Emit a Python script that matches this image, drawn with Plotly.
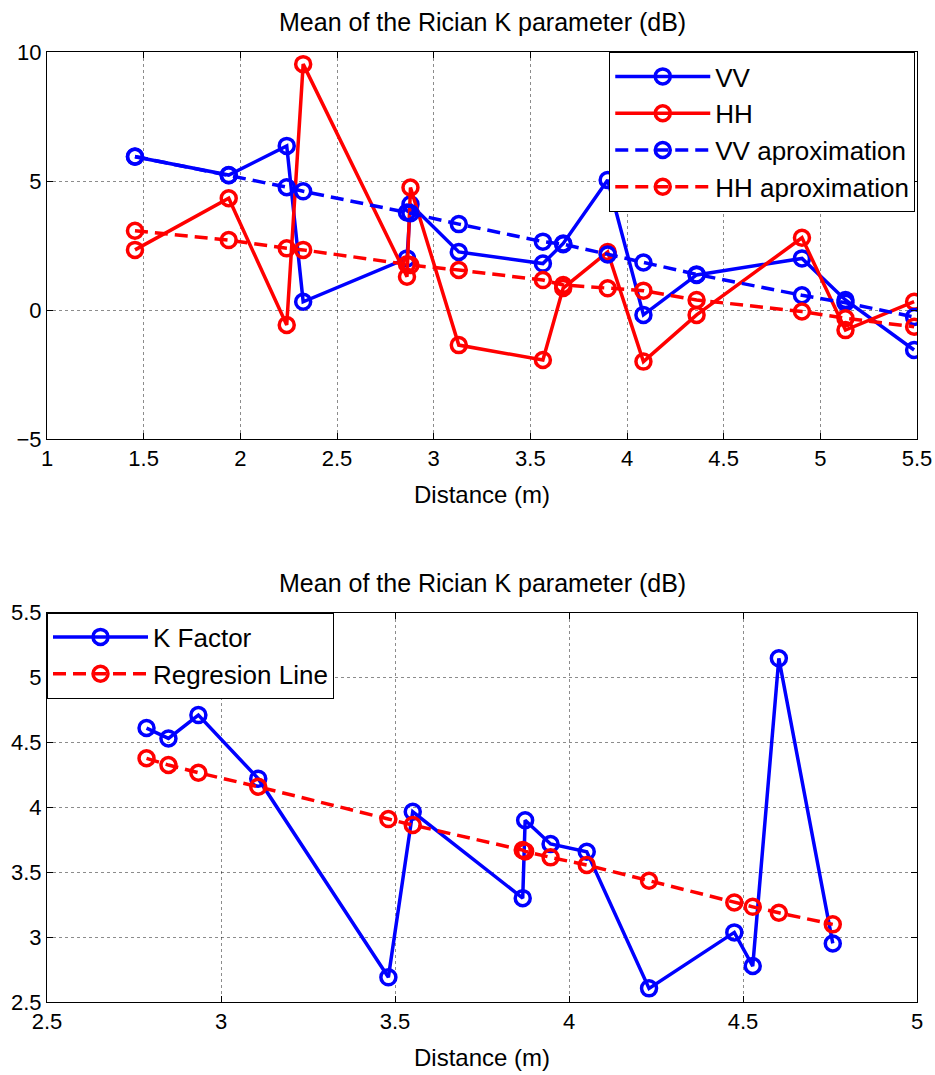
import plotly.graph_objects as go

# ---- Top chart data ----
dist_top = [1.455, 1.94, 2.24, 2.325, 2.862, 2.88, 3.13, 3.565, 3.67, 3.90, 4.085, 4.36, 4.905, 5.13, 5.485]
vv = [5.94, 5.23, 6.36, 0.32, 2.0, 4.1, 2.25, 1.8, 2.58, 5.04, -0.19, 1.36, 2.0, 0.39, -1.55]
hh = [2.33, 4.33, -0.58, 9.53, 1.29, 4.75, -1.36, -1.94, 0.85, 2.25, -2.0, -0.19, 2.8, -0.78, 0.32]
vv_approx = [5.95, 5.22, 4.76, 4.6, 3.78, 3.75, 3.33, 2.65, 2.55, 2.15, 1.84, 1.38, 0.57, 0.28, -0.27]
hh_approx = [3.07, 2.71, 2.39, 2.33, 1.77, 1.74, 1.55, 1.16, 0.97, 0.84, 0.75, 0.39, -0.06, -0.32, -0.65]

# ---- Bottom chart data ----
dist_bot = [2.786, 2.849, 2.935, 3.107, 3.481, 3.551, 3.867, 3.874, 3.947, 4.051, 4.23, 4.475, 4.528, 4.603, 4.758]
k_factor = [4.61, 4.53, 4.71, 4.22, 2.69, 3.965, 3.30, 3.90, 3.717, 3.657, 2.605, 3.036, 2.777, 5.147, 2.951]
regression = [4.377, 4.325, 4.266, 4.158, 3.909, 3.863, 3.67, 3.66, 3.614, 3.555, 3.434, 3.267, 3.233, 3.187, 3.098]

title_text = "Mean of the Rician K parameter (dB)"
xlabel = "Distance (m)"

BLUE = "#0000FF"
RED = "#FF0000"
FONT = "Liberation Sans, Arial, sans-serif"
DASH = "13px,7px"

fig = go.Figure()

def add(x, y, name, color, dash, xa, ya, legend, group):
    fig.add_trace(go.Scatter(
        x=x, y=y, name=name, mode="lines+markers",
        line=dict(color=color, width=3.5, dash=dash),
        marker=dict(symbol="circle-open", size=15, color=color, line=dict(width=3.5, color=color)),
        xaxis=xa, yaxis=ya, legend=legend, legendgroup=group,
    ))

add(dist_top, vv, "VV", BLUE, "solid", "x", "y", "legend", "a")
add(dist_top, hh, "HH", RED, "solid", "x", "y", "legend", "b")
add(dist_top, vv_approx, "VV aproximation", BLUE, DASH, "x", "y", "legend", "c")
add(dist_top, hh_approx, "HH aproximation", RED, DASH, "x", "y", "legend", "d")
add(dist_bot, k_factor, "K Factor", BLUE, "solid", "x2", "y2", "legend2", "e")
add(dist_bot, regression, "Regresion Line", RED, DASH, "x2", "y2", "legend2", "f")

axis_common = dict(
    showline=True, linecolor="black", linewidth=1, mirror="ticks",
    ticks="inside", ticklen=6, tickcolor="black", tickwidth=1,
    showgrid=True, gridcolor="rgba(0,0,0,0.45)", griddash="dot", gridwidth=1,
    zeroline=False, automargin=False,
    tickfont=dict(family=FONT, size=22, color="black"),
)

H = 1075
T, B = 52, 73
ph = H - T - B
def py(px):
    return (H - B - px) / ph

fig.update_layout(
    width=935, height=1075,
    margin=dict(l=47, r=18, t=T, b=B),
    plot_bgcolor="white", paper_bgcolor="white",
    font=dict(family=FONT, color="black"),
    xaxis=dict(domain=[0, 1], range=[1, 5.5], dtick=0.5, anchor="y",
               title=dict(text=xlabel, font=dict(size=24), standoff=15), **axis_common),
    yaxis=dict(domain=[py(439), py(52)], range=[-5, 10], dtick=5, anchor="x", **axis_common),
    xaxis2=dict(domain=[0, 1], range=[2.5, 5], dtick=0.5, anchor="y2",
                title=dict(text=xlabel, font=dict(size=24), standoff=15), **axis_common),
    yaxis2=dict(domain=[py(1002), py(612.5)], range=[2.5, 5.5], dtick=0.5, anchor="x2", **axis_common),
    legend=dict(x=0.998, y=py(52), xanchor="right", yanchor="top",
                bgcolor="white", bordercolor="black", borderwidth=1,
                font=dict(size=26, family=FONT), itemwidth=95, tracegroupgap=4,
                traceorder="normal"),
    legend2=dict(x=0, y=py(612.5), xanchor="left", yanchor="top",
                 bgcolor="white", bordercolor="black", borderwidth=1,
                 font=dict(size=26, family=FONT), itemwidth=95, tracegroupgap=4,
                 traceorder="normal"),
    annotations=[
        dict(text=title_text, x=0.5, y=py(22), xref="paper", yref="paper", showarrow=False,
             xanchor="center", yanchor="middle", font=dict(size=25, family=FONT)),
        dict(text=title_text, x=0.5, y=py(583), xref="paper", yref="paper", showarrow=False,
             xanchor="center", yanchor="middle", font=dict(size=25, family=FONT)),
    ],
)

fig.write_html("out.html")
